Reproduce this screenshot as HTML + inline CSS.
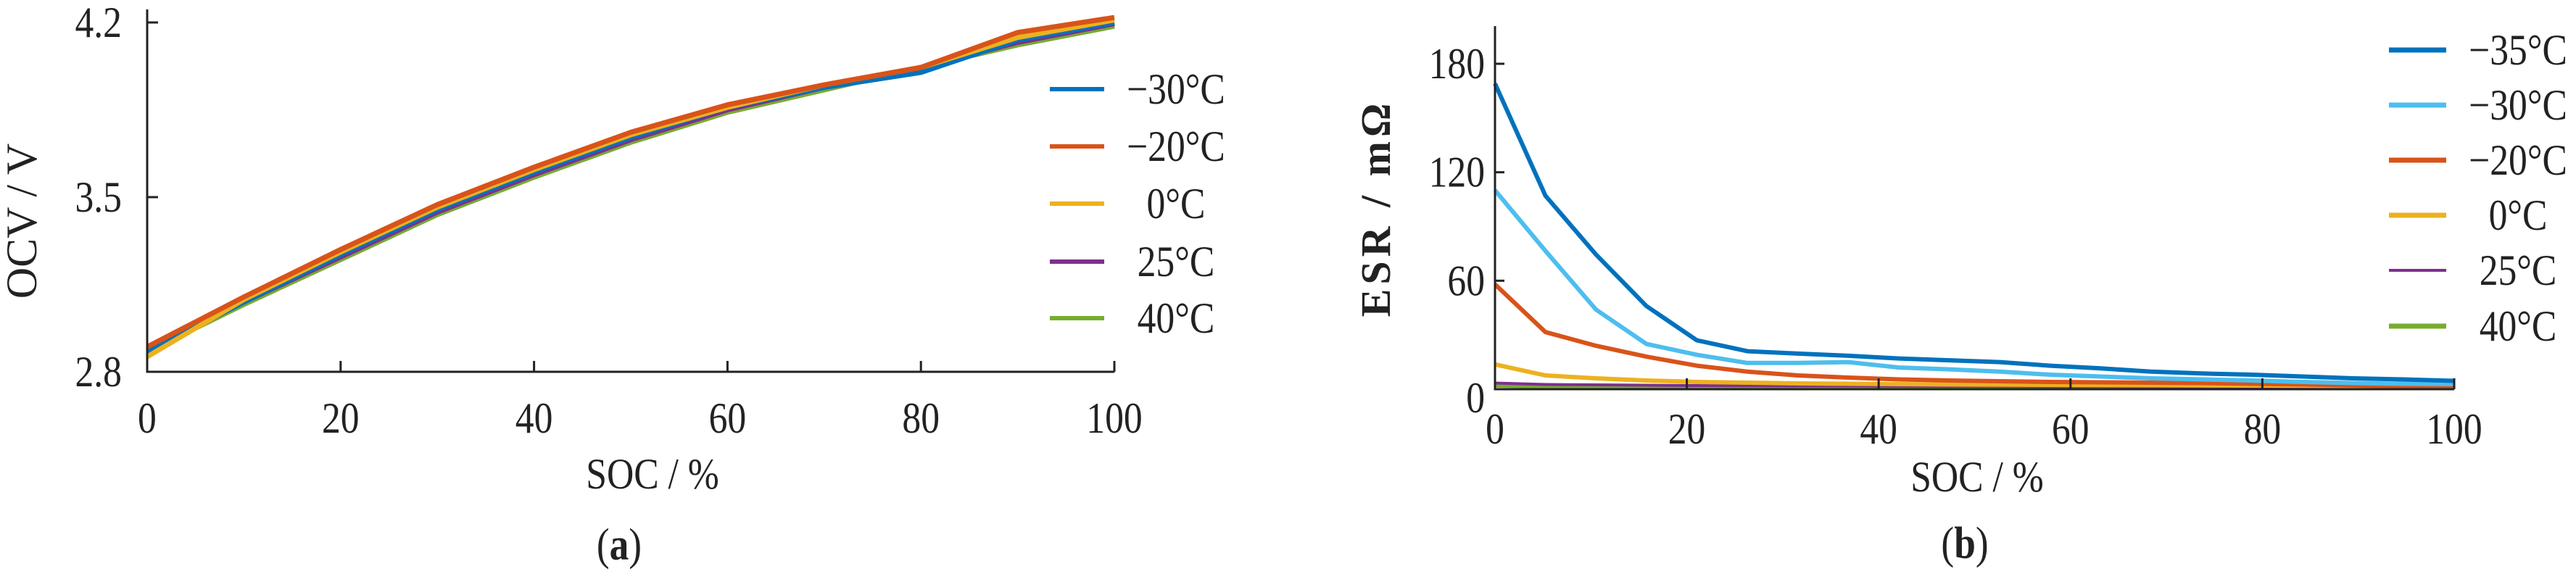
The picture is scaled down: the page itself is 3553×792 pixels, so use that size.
<!DOCTYPE html>
<html><head><meta charset="utf-8"><style>
html,body{margin:0;padding:0;background:#fff;}
svg{display:block;}
text{font-family:"Liberation Serif",serif;fill:#222;}
</style></head><body>
<svg id="fig" width="3553" height="792" viewBox="0 0 3553 792">
<g id="pa"></g>
<g id="pb"></g>
</svg>
<script>
// ---- chart (a) data ----
const socA = [0,10,20,30,40,50,60,70,80,90,100];
const ocvTicks = [2.8,3.5,4.2];
const socTicks = [0,20,40,60,80,100];
const ocvNames = ["−30°C","−20°C","0°C","25°C","40°C"];
const ocvM30 = [2.88,3.08,3.27,3.45,3.60,3.74,3.86,3.94,4.00,4.13,4.20];
const ocvM20 = [2.90,3.10,3.29,3.47,3.62,3.76,3.87,3.95,4.02,4.16,4.22];
const ocv0   = [2.86,3.09,3.28,3.46,3.61,3.75,3.86,3.95,4.02,4.14,4.21];
const ocv25  = [2.89,3.08,3.26,3.44,3.59,3.73,3.85,3.94,4.02,4.12,4.195];
const ocv40  = [2.88,3.07,3.25,3.43,3.58,3.72,3.84,3.93,4.02,4.11,4.185];
// ---- chart (b) data ----
const socB = [0,5.26,10.53,15.79,21.05,26.32,31.58,36.84,42.11,47.37,52.63,57.89,63.16,68.42,73.68,78.95,84.21,89.47,94.74,100];
const esrTicks = [0,60,120,180];
const esrNames = ["−35°C","−30°C","−20°C","0°C","25°C","40°C"];
const esrM35 = [169,107,74.5,46,27,21,19.7,18.5,17,16,15,13,11.5,9.7,8.7,8,7,6,5.4,4.6];
const esrM30 = [110,76.5,44,25,19,14.5,14.5,15,12,11,9.7,8,7,6,5.4,4.8,4,3.4,3,2.8];
const esrM20 = [58,31.6,24,18,13,9.7,7.6,6.4,5.4,4.8,4.4,4,3.8,3.6,3.4,3,2.6,2,1.6,1.2];
const esr0   = [13.7,7.6,6,4.8,4,3.6,3.2,3,2.8,2.6,2.5,2.4,2.3,2.2,2.1,2,1.9,1.8,1.7,1.6];
const esr25  = [3.4,2.6,2.4,2.2,2,1.9,1.8,1.8,1.7,1.6,1.6,1.5,1.5,1.4,1.4,1.3,1.3,1.2,1.2,1.2];
const esr40  = [2,1.6,1.5,1.4,1.3,1.3,1.3,1.3,1.2,1.2,1.2,1.2,1.2,1.2,1.2,1.2,1.2,1.2,1.2,1.2];

const NS="http://www.w3.org/2000/svg";
const SX=0.86;
function mk(parent,tag,attrs,txt){const e=document.createElementNS(NS,tag);for(const k in attrs)e.setAttribute(k,attrs[k]);if(txt!==undefined)e.textContent=txt;parent.appendChild(e);return e;}
function T(parent,x,y,anchor,size,txt){return mk(parent,'text',{x:(x/SX).toFixed(1),y:y,'text-anchor':anchor,'font-size':size,transform:`scale(${SX},1)`},txt);}

// chart a
(function(){
  const g=document.getElementById('pa');
  const x0=203,x1=1537,y0=513,y1=31;
  const xs=v=>x0+(v-0)/(100-0)*(x1-x0);
  const ys=v=>y0-(v-2.8)/(4.2-2.8)*(y0-y1);
  const cols=["#0072BD","#D95319","#EDB120","#7E2F8E","#77AC30"];
  const series=[ocvM30,ocvM20,ocv0,ocv25,ocv40];
  const order=[4,3,0,2,1];
  order.forEach(i=>{
    const d=series[i].map((v,j)=>(j?'L':'M')+xs(socA[j]).toFixed(1)+','+ys(v).toFixed(1)).join('');
    const p=mk(g,'path',{d:d,fill:'none',stroke:cols[i],'stroke-width':7,'stroke-linejoin':'round'});
    
    
  });
  const ax=mk(g,'path',{d:`M${x0},13V${y0}H${x1}`,fill:'none',stroke:'#222','stroke-width':3});
  
  
  ocvTicks.forEach(v=>{
    if(v>2.8){const t=mk(g,'line',{x1:x0,x2:x0+15,y1:ys(v),y2:ys(v),stroke:'#222','stroke-width':3});
    
    }
    const l=T(g,168,ys(v)+20,'end',60,v.toFixed(1));
    
    
  });
  socTicks.forEach(v=>{
    if(v>0){const t=mk(g,'line',{x1:xs(v),x2:xs(v),y1:y0,y2:y0-15,stroke:'#222','stroke-width':3});
    
    }
    const l=T(g,xs(v),597,'middle',60,String(v));
    
    
  });
  const xt=T(g,900,674,'middle',60,'SOC / %');
  
  
  const yt=mk(g,'text',{x:0,y:0,'text-anchor':'middle','font-size':60,transform:'translate(50,305) rotate(-90)'},'OCV / V');
  
  
  const cap=T(g,854,772,'middle',62);
  mk(cap,'tspan',{},'(');mk(cap,'tspan',{'font-weight':'bold'},'a');mk(cap,'tspan',{},')');
  
  
  const ly=[123,202,281,361,439];
  ocvNames.forEach((n,i)=>{
    const le=mk(g,'g',{});
    
    
    mk(le,'line',{x1:1448,x2:1523,y1:ly[i],y2:ly[i],stroke:cols[i],'stroke-width':6});
    T(le,1622,ly[i]+20,'middle',60,n);
  });
})();

// chart b
(function(){
  const g=document.getElementById('pb');
  const x0=2062,x1=3385,y0=537,y1=88;
  const xs=v=>x0+v/100*(x1-x0);
  const ys=v=>y0-v/180*(y0-y1);
  const cols=["#0072BD","#4DBEEE","#D95319","#EDB120","#7E2F8E","#77AC30"];
  const series=[esrM35,esrM30,esrM20,esr0,esr25,esr40];
  [5,4,3,2,1,0].forEach(i=>{
    const d=series[i].map((v,j)=>(j?'L':'M')+xs(socB[j]).toFixed(1)+','+ys(v).toFixed(1)).join('');
    const p=mk(g,'path',{d:d,fill:'none',stroke:cols[i],'stroke-width':i==4?4:6,'stroke-linejoin':'round'});
    
    
  });
  const ax=mk(g,'path',{d:`M${x0},36V${y0}H${x1}`,fill:'none',stroke:'#222','stroke-width':3});
  
  
  esrTicks.forEach(v=>{
    if(v>0){const t=mk(g,'line',{x1:x0,x2:x0+13,y1:ys(v),y2:ys(v),stroke:'#222','stroke-width':3});
    
    }
    const l=T(g,2048,ys(v)+(v===0?32:20),'end',60,String(v));
    
    
  });
  socTicks.forEach(v=>{
    if(v>0){const t=mk(g,'line',{x1:xs(v),x2:xs(v),y1:y0,y2:y0-15,stroke:'#222','stroke-width':3});
    
    }
    const l=T(g,xs(v),612,'middle',60,String(v));
    
    
  });
  const xt=T(g,2727,678,'middle',60,'SOC / %');
  
  
  const yt=mk(g,'text',{x:0,y:0,'text-anchor':'middle','font-size':58,'font-weight':'bold','letter-spacing':'6',transform:'translate(1917,287) rotate(-90)'},'ESR / mΩ');
  
  
  const cap=T(g,2710,770,'middle',62);
  mk(cap,'tspan',{},'(');mk(cap,'tspan',{'font-weight':'bold'},'b');mk(cap,'tspan',{},')');
  
  
  const ly=[69,145,221,297,373,450];
  esrNames.forEach((n,i)=>{
    const le=mk(g,'g',{});
    
    
    mk(le,'line',{x1:3295,x2:3374,y1:ly[i],y2:ly[i],stroke:cols[i],'stroke-width':i==4?4:7});
    T(le,3473,ly[i]+20,'middle',60,n);
  });
})();
</script>
</body></html>
